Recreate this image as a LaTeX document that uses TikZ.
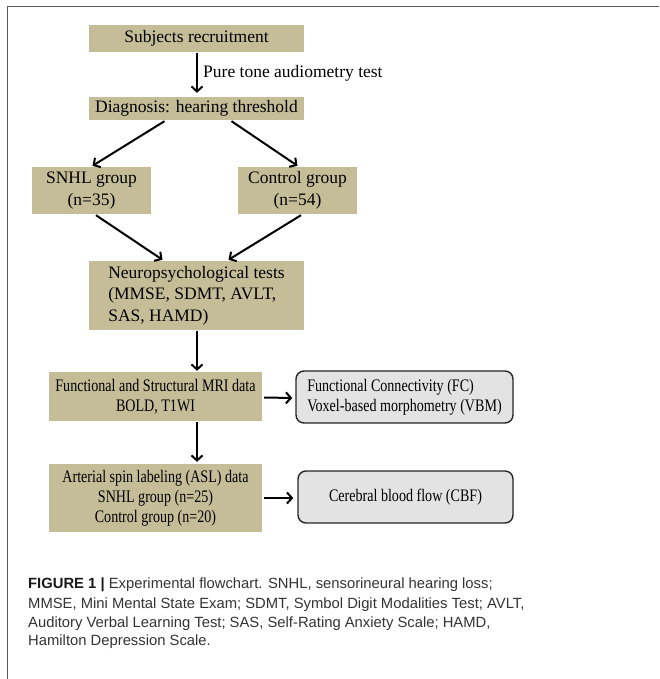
\documentclass[tikz,border=0pt]{standalone}
\usepackage{fontspec}
\setmainfont{Liberation Serif}
\newfontfamily\condserif[FakeStretch=0.8]{Liberation Serif}
\newfontfamily\capfont{Liberation Sans}
\usetikzlibrary{arrows.meta,calc}
\definecolor{tanfill}{HTML}{C4BD97}
\definecolor{grayfill}{HTML}{E3E3E3}
\definecolor{captext}{HTML}{333333}
\tikzset{
  tanbox/.style={fill=tanfill, draw=none, inner sep=0pt, align=center,
    font=\fontsize{17.5}{21.5}\selectfont},
  condtxt/.style={font=\condserif\fontsize{17.6}{20}\selectfont},
  graybox/.style={fill=grayfill, draw=black!85, line width=1.4pt, rounded corners=8pt,
    inner sep=0pt, condtxt},
  arr/.style={line width=2pt, -{Straight Barb[length=5pt,width=11pt]}},
  captxt/.style={anchor=base west, inner sep=0pt, text=captext,
    font=\capfont\fontsize{14.8}{19}\selectfont},
  lbl/.style={anchor=west, inner sep=0pt, font=\fontsize{17.5}{21}\selectfont}
}
\begin{document}
\begin{tikzpicture}[x=1pt,y=-1pt]
\useasboundingbox (0,0) rectangle (659,679);
% frame
\draw[line width=1.5pt, draw=black!65] (7.5,679) -- (7.5,6.5) -- (659,6.5);

\node[tanbox, minimum width=215pt, minimum height=27pt] (sub) at (196.5,38.5) {Subjects recruitment};
\node[tanbox, minimum width=215pt, minimum height=23pt] (diag) at (196.5,108.5) {Diagnosis: hearing threshold};
\node[tanbox, minimum width=119pt, minimum height=47pt] (snhl) at (91.5,190.5) {SNHL group\\(n=35)};
\node[tanbox, minimum width=119pt, minimum height=47pt] (ctrl) at (297.5,190.5) {Control group\\(n=54)};
\node[tanbox, align=left, minimum width=215pt, minimum height=69pt] (neuro) at (196.5,295.5) {Neuropsychological tests\\(MMSE, SDMT, AVLT,\\SAS, HAMD)};
\node[tanbox, condtxt, minimum width=213pt, minimum height=49pt] (func) at (155.5,396.5) {Functional and Structural MRI data\\BOLD, T1WI};
\node[tanbox, condtxt, minimum width=213pt, minimum height=68pt] (asl) at (155.5,498) {Arterial spin labeling (ASL) data\\SNHL group (n=25)\\Control group (n=20)};
\node[graybox, align=left, minimum width=217pt, minimum height=52pt] (fc) at (404.5,397) {Functional Connectivity (FC)\\Voxel-based morphometry (VBM)};
\node[graybox, align=center, minimum width=215pt, minimum height=52pt] (cbf) at (405.5,497) {Cerebral blood flow (CBF)};

\node[lbl] (pta) at (203,73) {Pure tone audiometry test};

\draw[arr] ($(sub.south)+(0.5,1)$) -- ($(diag.north)+(0.5,-4)$);
\draw[arr] ($(diag.south)+(-32,1)$) -- ($(snhl.north)+(1,-1)$);
\draw[arr] ($(diag.south)+(35,1)$) -- ($(ctrl.north)+(0,-1)$);
\draw[arr] ($(snhl.south)+(4.5,1)$) -- ($(neuro.north)+(-34,-1)$);
\draw[arr] ($(ctrl.south)+(3.5,1)$) -- ($(neuro.north)+(32,-1)$);
\draw[arr] ($(neuro.south)+(0.5,1)$) -- ($(neuro.south |- func.north)+(0.5,-1)$);
\draw[arr] ($(func.south)+(41.5,1)$) -- ($(func.south |- asl.north)+(41.5,-2)$);
\draw[arr] ($(func.east)+(2,1)$) -- ($(fc.west)+(-3,1)$);
\draw[arr] ($(asl.east)+(2,0)$) -- ($(cbf.west)+(-4,1)$);

% caption
\node[captxt] (cap1) at (28,588) {\textbf{\color{black!90}FIGURE 1 |} Experimental flowchart. SNHL, sensorineural hearing loss;};
\node[captxt] (cap2) at (28,608) {MMSE, Mini Mental State Exam; SDMT, Symbol Digit Modalities Test; AVLT,};
\node[captxt] (cap3) at (28,627) {Auditory Verbal Learning Test; SAS, Self-Rating Anxiety Scale; HAMD,};
\node[captxt] (cap4) at (28,645) {Hamilton Depression Scale.};
\end{tikzpicture}
\end{document}
